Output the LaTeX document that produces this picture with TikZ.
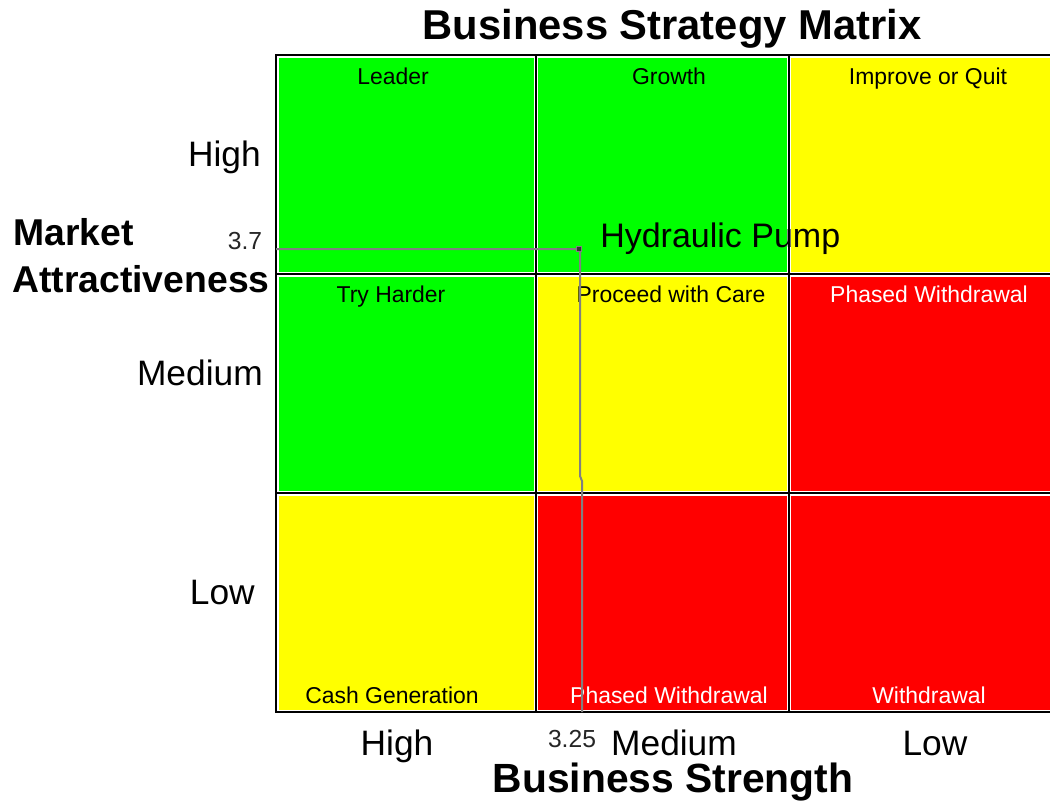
\documentclass[tikz,border=0pt]{standalone}
\usepackage{fontspec}
\setmainfont{Liberation Sans}
\usepackage{xcolor}
\usetikzlibrary{positioning}

\definecolor{cellgreen}{RGB}{0,255,0}
\definecolor{cellyellow}{RGB}{255,255,0}
\definecolor{cellred}{RGB}{255,0,0}

\begin{document}
\begin{tikzpicture}[
    x=0.75pt, y=-0.75pt,
    gridline/.style={draw=black, line width=1.6pt},
    guide/.style={draw=gray, line width=1.5pt},
    celltext/.style={inner sep=0, anchor=base, font=\fontsize{17.2}{18}\selectfont},
    axistext/.style={inner sep=0, anchor=base, font=\fontsize{26.5}{30}\selectfont},
    valtext/.style={inner sep=0, anchor=base, text=black!85, font=\fontsize{18.5}{20}\selectfont},
    headtext/.style={inner sep=0, anchor=base, font=\fontsize{31.3}{34}\selectfont\bfseries},
    sidetext/.style={inner sep=0, anchor=base west, font=\fontsize{28}{30}\selectfont\bfseries}
]
\useasboundingbox (0,0) rectangle (1050,803);
\fill[white] (0,0) rectangle (1050,803);

% cells, top row to bottom row
\fill[cellgreen]  (279,58)  rectangle (534,272);
\fill[cellgreen]  (538,58)  rectangle (787,272);
\fill[cellyellow] (791,58)  rectangle (1052,272);
\fill[cellgreen]  (279,277) rectangle (534,491);
\fill[cellyellow] (538,277) rectangle (787,491);
\fill[cellred]    (791,277) rectangle (1052,491);
\fill[cellyellow] (279,496) rectangle (534,710);
\fill[cellred]    (538,496) rectangle (787,710);
\fill[cellred]    (791,496) rectangle (1052,710);

% grid
\draw[gridline] (1055,55) -- (276,55) -- (276,712) -- (1055,712);
\draw[gridline] (536,55) -- (536,712);
\draw[gridline] (789,55) -- (789,712);
\draw[gridline] (276,274) -- (1055,274);
\draw[gridline] (276,493) -- (1055,493);

% cell names
\node[celltext] (leader)   at (393,84)  {Leader};
\node[celltext] (growth)   at (669,84)  {Growth};
\node[celltext] (improve)  at (928,84)  {Improve or Quit};
\node[celltext] (harder)   at (391,302) {Try Harder};
\node[celltext] (care)     at (671,302) {Proceed with Care};
\node[celltext, text=white] (phasedA)  at (929,302) {Phased Withdrawal};
\node[celltext] (cash)     at (392,703) {Cash Generation};
\node[celltext, text=white] (phasedB)  at (669,703) {Phased Withdrawal};
\node[celltext, text=white] (withdraw) at (929,703) {Withdrawal};

% titles
\node[headtext] (title) at (672,39) {Business Strategy Matrix};
\node[headtext, font=\fontsize{30.6}{34}\selectfont\bfseries] (xtitle) at (673,792) {Business Strength};
\node[sidetext] (ytitleA) at (13,245) {Market};
\node[sidetext] (ytitleB) at (12,292) {Attractiveness};

% axis levels
\node[axistext, anchor=base east] (yhigh) at (261,166) {High};
\node[axistext, anchor=base east] (ymed)  at (263,385) {Medium};
\node[axistext, anchor=base east] (ylow)  at (255,604) {Low};
\node[axistext] (xhigh) at (397,755) {High};
\node[axistext] (xmed)  at (674,755) {Medium};
\node[axistext] (xlow)  at (935,755) {Low};

% product position
\coordinate (yaxis) at (276,249);
\coordinate (xaxis) at (582,712);
\draw[guide] (yaxis) -- (580,249) -- (580,476) -- (582,481) -- (xaxis);
\node[draw=gray, fill=black!80, line width=0.6pt, minimum size=4pt, inner sep=0] (pump) at (579,249) {};
\node[axistext, font=\fontsize{25.5}{30}\selectfont, anchor=base west] (pumplabel) at (600,247) {Hydraulic Pump};
\node[valtext] (yval) at (245,249) {3.7};
\node[valtext] (xval) at (572,747) {3.25};

\end{tikzpicture}
\end{document}
